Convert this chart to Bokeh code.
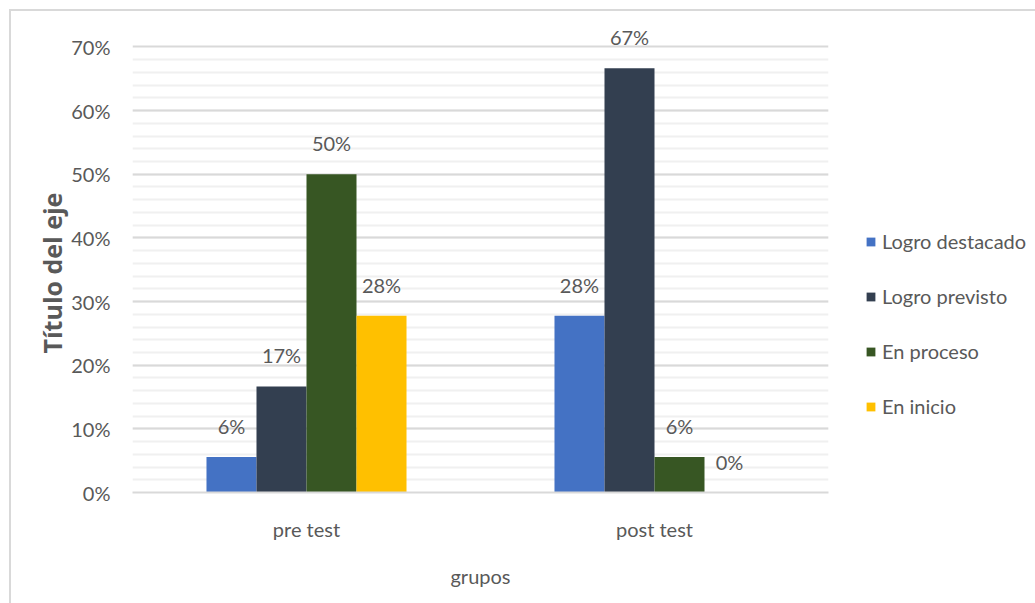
from bokeh.plotting import figure
from bokeh.models import (FactorRange, Range1d, FixedTicker, NumeralTickFormatter,
                          ColumnDataSource, LabelSet, Legend, LegendItem, Title)
from bokeh.core.properties import value
from bokeh.transform import dodge
from bokeh.embed import file_html
from bokeh.resources import INLINE

# Data
groups = ["pre test", "post test"]
series = ["Logro destacado", "Logro previsto", "En proceso", "En inicio"]
logro_destacado = [0.0556, 0.2778]
logro_previsto = [0.1667, 0.6667]
en_proceso = [0.5000, 0.0556]
en_inicio = [0.2778, 0.0]
colors = ["#4472C4", "#333F50", "#375623", "#FFC000"]
y_ticks = [0.0, 0.1, 0.2, 0.3, 0.4, 0.5, 0.6, 0.7]

values = [logro_destacado, logro_previsto, en_proceso, en_inicio]

TEXT = "#595959"
FONT = "Lato"

p = figure(x_range=FactorRange(factors=groups, range_padding=0),
           y_range=Range1d(0, 0.74),
           frame_width=696, frame_height=471,
           output_backend="svg", toolbar_location=None,
           min_border_left=121, min_border_right=0,
           min_border_top=10, min_border_bottom=111,
           background_fill_color="white", border_fill_color="white",
           outline_line_color=None)
p.margin = (9, 0, 0, 9)
p.styles = {"border-top": "2px solid #d9d9d9", "border-left": "2px solid #d9d9d9"}

bar_w = 0.1437
offsets = [-1.5 * bar_w, -0.5 * bar_w, 0.5 * bar_w, 1.5 * bar_w]

legend_items = []
for name, vals, col, off in zip(series, values, colors, offsets):
    src = ColumnDataSource(dict(
        g=groups, v=vals,
        lbl=[f"{round(v * 100):.0f}%" for v in vals],
    ))
    r = p.vbar(x=dodge("g", off, range=p.x_range), top="v", width=bar_w,
               source=src, fill_color=col, line_color=None)
    legend_items.append(LegendItem(label=name, renderers=[r]))
    labels = LabelSet(x=dodge("g", off, range=p.x_range), y="v", text="lbl",
                      source=src, y_offset=31, text_align="center",
                      text_baseline="middle", text_font=value(FONT),
                      text_font_size=value("20px"), text_color=value(TEXT))
    p.add_layout(labels)

# Y axis
p.yaxis.ticker = FixedTicker(ticks=y_ticks,
                             minor_ticks=[i / 100 for i in range(2, 70, 2)])
p.yaxis.formatter = NumeralTickFormatter(format="0%")
p.yaxis.axis_line_color = None
p.yaxis.major_tick_line_color = None
p.yaxis.minor_tick_line_color = None
p.yaxis.major_label_standoff = 16
p.yaxis.major_label_text_font = FONT
p.yaxis.major_label_text_font_size = "20px"
p.yaxis.major_label_text_color = TEXT

# Y axis title, anchored from the bottom of the plot area
y_title = Title(text="Título del eje", align="left", offset=139,
                text_font="Open Sans", text_font_style="bold",
                text_font_size="25px", text_color=TEXT, standoff=0)
p.add_layout(y_title, "left")

# X axis
p.xaxis.axis_line_color = "#d9d9d9"
p.xaxis.axis_line_width = 2
p.xaxis.major_tick_line_color = None
p.xaxis.minor_tick_line_color = None
p.xaxis.major_label_standoff = 18
p.xaxis.major_label_text_font = FONT
p.xaxis.major_label_text_font_size = "20px"
p.xaxis.major_label_text_color = TEXT
p.xaxis.axis_label = "grupos"
p.xaxis.axis_label_text_font = FONT
p.xaxis.axis_label_text_font_style = "normal"
p.xaxis.axis_label_text_font_size = "20px"
p.xaxis.axis_label_text_color = TEXT
p.xaxis.axis_label_standoff = 20

# Grid
p.xgrid.grid_line_color = None
p.ygrid.grid_line_color = "#d9d9d9"
p.ygrid.grid_line_width = 2
p.ygrid.minor_grid_line_color = "#f0f0f0"
p.ygrid.minor_grid_line_width = 2

legend = Legend(items=legend_items, location=(37, 74), orientation="vertical",
                glyph_width=11, glyph_height=11, label_standoff=6,
                label_height=20, spacing=31, padding=0, margin=0,
                border_line_color=None, background_fill_alpha=0,
                label_text_font=FONT, label_text_font_size="20px",
                label_text_color=TEXT, label_text_baseline="middle")
p.add_layout(legend, "right")

open("out.html", "w").write(file_html(p, INLINE))
